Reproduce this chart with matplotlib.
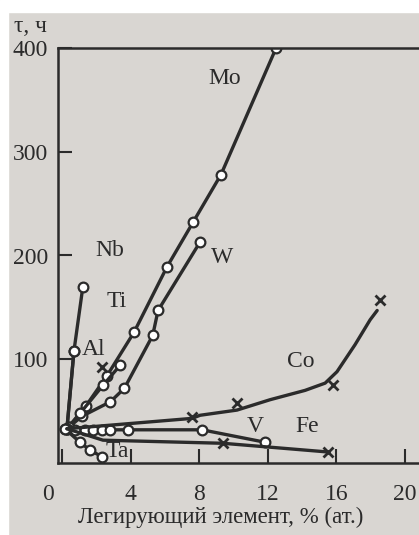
import matplotlib.pyplot as plt
from matplotlib.transforms import ScaledTranslation

# время до разрушения в зависимости от содержания легирующего элемента
mo_x = [0.29, 1.4, 2.62, 4.2, 6.12, 7.64, 9.27, 12.48]
mo_y = [33, 55, 84, 126, 189, 232, 278, 400]

w_x = [0.44, 1.16, 2.82, 3.64, 5.29, 5.6, 8.05]
w_y = [35, 45, 59, 72, 123, 147, 213]

ti_x = [0.44, 1.06, 2.4, 3.38]
ti_y = [35, 48, 75, 94]
ti_cross_x = [2.33]
ti_cross_y = [92.5]

nb_x = [0.29, 0.7, 1.22]
nb_y = [33, 108, 170]

al_x = [0.29, 0.7]
al_y = [33, 108]

co_pts_x = [7.58, 10.2, 15.8, 18.54]
co_pts_y = [44, 58, 75, 157]
co_line_x = [0.29, 7.58, 8.05, 10.2, 12.13, 14.17, 15.34, 16.03, 17.08, 17.96, 18.37]
co_line_y = [33, 43, 46, 51, 61, 70, 77, 88, 114, 138, 147]

v_x = [0.17, 0.76, 1.34, 1.81, 2.33, 2.8, 3.85, 8.16, 11.84]
v_y = [33, 32, 32, 32, 32, 32, 32, 32, 20]

fe_x = [0.29, 2.39, 9.39, 15.51]
fe_y = [33, 22, 19, 10.6]

ta_x = [0.17, 1.05, 1.63, 2.33]
ta_y = [33, 20, 12.5, 6]

ink = '#2b2b2b'
paper = '#d9d6d2'

plt.rcParams['font.family'] = ['Liberation Serif', 'DejaVu Serif']

fig = plt.figure(figsize=(4.19, 5.35), dpi=100, facecolor=paper)
ax = fig.add_axes([58 / 419, 1 - 463 / 535, 366 / 419, 415 / 535])
ax.set_facecolor(paper)

line_kw = dict(color=ink, lw=2.4, solid_capstyle='round')
circ_kw = dict(marker='o', ms=7, mfc='white', mec=ink, mew=1.6)
cross_kw = dict(marker='x', ms=7, mec=ink, mew=2, ls='none')

ax.plot(mo_x, mo_y, **line_kw, **circ_kw)
ax.plot(w_x, w_y, **line_kw, **circ_kw)
ax.plot(ti_x, ti_y, **line_kw, **circ_kw)
ax.plot(ti_cross_x, ti_cross_y, **cross_kw)
ax.plot(nb_x, nb_y, **line_kw, **circ_kw)
ax.plot(al_x, al_y, **line_kw, **circ_kw)
ax.plot(v_x, v_y, **line_kw, **circ_kw)
ax.plot(ta_x, ta_y, **line_kw, **circ_kw)
ax.plot(co_line_x, co_line_y, **line_kw)
ax.plot(co_pts_x, co_pts_y, **cross_kw)
ax.plot(fe_x, fe_y, **line_kw)
ax.plot(fe_x[2:], fe_y[2:], **cross_kw)

labels = {'Mo': (9.5, 371), 'Nb': (2.8, 205), 'W': (9.33, 198), 'Ti': (3.2, 156),
          'Al': (1.87, 109), 'Co': (13.9, 98), 'Fe': (14.3, 35), 'V': (11.25, 35),
          'Ta': (3.2, 11)}
for name, (x, y) in labels.items():
    ax.text(x, y, name, fontsize=17, color=ink, ha='center', va='center')

ax.set_xlim(-0.23, 21.1)
ax.set_ylim(0, 400)
ax.set_xticks([0, 4, 8, 12, 16, 20])
ax.set_yticks([100, 200, 300, 400])
ax.tick_params(direction='in', length=10, width=1.5, colors=ink, labelsize=17)
ax.tick_params(axis='x', pad=15)
ax.tick_params(axis='y', pad=7)
for s in ax.spines.values():
    s.set_linewidth(1.8)
    s.set_color(ink)

# подпись «0» стоит левее оси
zero = ax.get_xticklabels()[0]
zero.set_transform(zero.get_transform() + ScaledTranslation(-10 / 72, 0, fig.dpi_scale_trans))

ax.set_xlabel('Легирующий элемент, % (ат.)', fontsize=16.5, color=ink)
ax.xaxis.set_label_coords(0.445, -0.105)
fig.text(14 / 419, 1 - 27 / 535, 'τ, ч', fontsize=17, color=ink, va='center')

# белые поля страницы
fig.patches.append(plt.Rectangle((0, 1 - 12 / 535), 1, 12 / 535, transform=fig.transFigure,
                                 color='white', zorder=0))
fig.patches.append(plt.Rectangle((0, 0), 8 / 419, 1, transform=fig.transFigure,
                                 color='white', zorder=0))

fig.savefig('out.png', dpi=100, facecolor=paper)
